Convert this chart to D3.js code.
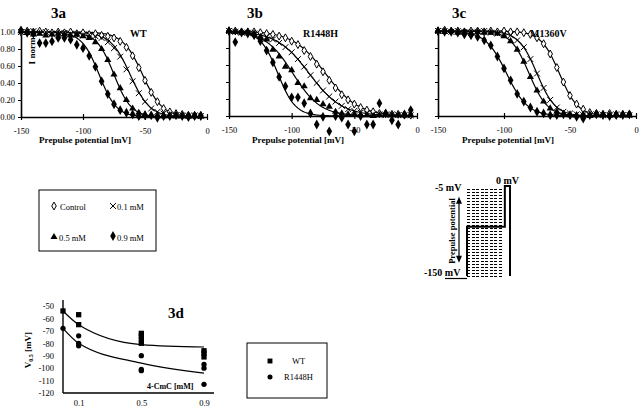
<!DOCTYPE html>
<html><head><meta charset="utf-8">
<script src="https://cdn.jsdelivr.net/npm/d3@7"></script>
<style>
body{margin:0;background:#fff}
svg{display:block}
text{font-family:"Liberation Serif","Times New Roman",serif;fill:#000}
.b{font-weight:bold}
</style>
</head><body>
<svg id="c" width="640" height="407"></svg>
<script>
// ---------- DATA ----------
const prepulse = [-150,-145,-140,-135,-130,-125,-120,-115,-110,-105,-100,-95,-90,-85,-80,-75,-70,-65,-60,-55,-50,-45,-40,-35,-30,-25,-20,-15,-10,-5];
const concLabels = ["Control","0.1 mM","0.5 mM","0.9 mM"];

// 3a WT
const wtControl = [1.00,1.01,1.00,1.01,1.00,0.99,1.00,0.99,1.00,0.98,0.99,0.97,0.98,0.96,0.95,0.93,0.89,0.82,0.72,0.58,0.43,0.29,0.18,0.10,0.06,0.04,0.03,0.02,0.02,0.02];
const wt01 = [1.00,1.00,1.01,0.99,1.00,0.98,0.97,0.99,0.98,0.97,0.96,0.97,0.95,0.93,0.88,0.81,0.71,0.56,0.42,0.28,0.18,0.10,0.06,0.04,0.03,0.02,0.02,0.01,0.02,0.01];
const wt05 = [1.01,0.99,0.97,0.98,0.96,0.97,0.98,0.97,0.96,0.97,0.95,0.93,0.88,0.80,0.67,0.50,0.34,0.20,0.10,0.05,0.03,0.02,0.02,0.01,0.02,0.01,0.01,0.02,0.01,0.01];
const wt09 = [1.02,0.99,0.98,0.87,0.87,0.89,0.93,0.93,0.91,0.85,0.81,0.72,0.59,0.42,0.27,0.15,0.08,0.05,0.03,0.01,0.02,0.02,-0.01,0.01,0.01,0.02,0.01,0.00,0.01,0.01];
const halfWT = [-52,-62,-75,-87];
const slopeWT = [8,8,7,7];

// 3b R1448H
const rControl = [1.00,1.00,0.99,0.99,0.99,0.98,0.97,0.96,0.94,0.92,0.88,0.84,0.77,0.70,0.61,0.52,0.42,0.33,0.25,0.19,0.14,0.10,0.07,0.05,0.03,0.03,0.02,0.02,0.01,0.01];
const r01 = [1.00,0.99,0.98,0.98,0.97,0.95,0.93,0.90,0.86,0.81,0.75,0.67,0.58,0.48,0.39,0.30,0.23,0.17,0.12,0.08,0.06,0.04,0.03,0.02,0.02,0.01,0.02,0.01,0.01,0.01];
const r05 = [1.00,0.99,0.98,0.99,0.97,0.93,0.90,0.78,0.70,0.58,0.54,0.39,0.35,0.21,0.19,0.14,0.11,0.05,0.03,0.02,0.02,0.01,0.01,0.00,0.01,0.02,0.01,0.01,0.02,0.01];
const r09 = [1.00,0.87,0.98,0.97,0.95,0.88,0.77,0.63,0.46,0.35,0.22,0.22,0.15,0.03,-0.10,-0.01,-0.18,0.00,-0.02,-0.10,-0.18,0.00,-0.10,-0.10,0.15,0.03,-0.05,-0.10,0.02,0.07];
const halfR1448H = [-73,-86,-99,-111];
const slopeR1448H = [13,13,11,7];

// 3c M1360V
const mControl = [1.00,1.01,1.00,1.00,0.99,1.00,1.00,0.99,1.00,0.99,1.00,0.99,0.99,0.98,0.96,0.92,0.85,0.73,0.57,0.40,0.24,0.14,0.08,0.04,0.03,0.02,0.03,0.02,0.02,0.02];
const m01 = [1.00,1.00,0.99,1.00,0.99,0.98,0.99,1.00,0.98,0.97,0.97,0.95,0.89,0.81,0.67,0.50,0.33,0.19,0.10,0.05,0.03,0.02,0.01,0.01,0.02,0.01,0.01,0.02,0.01,0.01];
const m05 = [1.00,0.99,1.00,0.98,0.99,0.98,0.99,0.98,0.98,0.97,0.94,0.88,0.78,0.64,0.46,0.30,0.17,0.09,0.05,0.02,0.01,0.01,0.02,0.00,0.01,0.02,0.01,0.01,0.02,0.01];
const m09 = [1.00,0.99,0.99,0.98,0.96,0.95,0.93,0.89,0.83,0.70,0.56,0.42,0.26,0.17,0.10,0.05,0.03,0.01,0.01,0.02,0.01,-0.01,-0.03,0.01,0.02,0.01,0.00,0.01,0.01,0.02];
const halfM1360V = [-58,-75,-81,-98];
const slopeM1360V = [7,7,7,8];

const xTicks = [-150,-100,-50,0];
const yTicks = [0,0.2,0.4,0.6,0.8,1.0];

// 3d
const wtConc = [0,0.1,0.1,0.5,0.5,0.5,0.5,0.9,0.9,0.9];
const wtV05 = [-54,-57,-65,-72,-74,-77,-80,-86,-88,-91];
const rConc = [0,0.1,0.1,0.1,0.5,0.5,0.5,0.9,0.9,0.9];
const rV05 = [-68,-74,-80,-82,-90,-101,-102,-97,-100,-113];
const fitConc = [0,0.1,0.5,0.9];
const wtFit = [-54,-65,-81,-83];
const rFit = [-68,-80,-96,-104];
const v05Ticks = [-50,-60,-70,-80,-90,-100,-110,-120];
const concTicks = [0.1,0.5,0.9];

// ---------- DRAW ----------
const svg = d3.select("#c");
const symTimes = d3.symbolTimes || d3.symbolX;
const markers = [
  {type:d3.symbolDiamond, size:18, fill:"#fff", stroke:"#000"},
  {type:symTimes, size:24, fill:"none", stroke:"#000"},
  {type:d3.symbolTriangle, size:22, fill:"#000", stroke:"none"},
  {type:d3.symbolDiamond, size:28, fill:"#000", stroke:"none"}
];
function drawSym(g, m, x, y){
  g.append("path").attr("d", d3.symbol(m.type, m.size)())
    .attr("transform", `translate(${x},${y})`)
    .attr("fill", m.fill).attr("stroke", m.stroke).attr("stroke-width", 1);
}

const panels = [
  {title:"3a", name:"WT", x0:21, x1:207, yTop:32, yBot:117, data:[wtControl,wt01,wt05,wt09], half:halfWT, slope:slopeWT, yLab:true, tx:51, nx:130, cx:85},
  {title:"3b", name:"R1448H", x0:229, x1:417, yTop:31, yBot:116, data:[rControl,r01,r05,r09], half:halfR1448H, slope:slopeR1448H, yLab:false, tx:247, nx:303, cx:298},
  {title:"3c", name:"M1360V", x0:438, x1:636, yTop:31, yBot:116, data:[mControl,m01,m05,m09], half:halfM1360V, slope:slopeM1360V, yLab:false, tx:452, nx:530, cx:508}
];

const fitGrid = d3.range(-150, -4.9, 1);

panels.forEach(p => {
  const x = d3.scaleLinear().domain([-150,0]).range([p.x0,p.x1]);
  const y = d3.scaleLinear().domain([0,1]).range([p.yBot,p.yTop]);
  const g = svg.append("g");

  p.half.forEach((h,i) => {
    const line = d3.line().x(v => x(v)).y(v => y(1/(1+Math.exp((v-h)/p.slope[i]))));
    g.append("path").attr("d", line(fitGrid)).attr("fill","none").attr("stroke","#000").attr("stroke-width",1.2);
  });

  const xa = g.append("g").attr("transform",`translate(0,${p.yBot})`)
    .call(d3.axisBottom(x).tickValues(xTicks).tickSizeInner(3).tickSizeOuter(0).tickPadding(8).tickFormat(d => String(d)));
  xa.selectAll(".tick line").attr("y1",-3).attr("y2",3).attr("stroke-width",1.2);
  xa.select(".domain").attr("stroke-width",1.6);
  xa.selectAll("text").attr("font-size",8.5);

  const ya = g.append("g").attr("transform",`translate(${p.x0},0)`)
    .call(d3.axisLeft(y).tickValues(yTicks).tickSizeInner(3).tickSizeOuter(0).tickPadding(3)
      .tickFormat(p.yLab ? d3.format(".2f") : () => ""));
  ya.select(".domain").attr("stroke-width",1.6);
  ya.selectAll(".tick line").attr("stroke-width",1);
  ya.selectAll("text").attr("font-size",8.5);

  p.data.forEach((arr,i) => {
    arr.forEach((v,j) => drawSym(g, markers[i], x(prepulse[j]), y(v)));
  });

  g.append("text").attr("class","b").attr("x",p.tx).attr("y",18).attr("font-size",15).text(p.title);
  g.append("text").attr("class","b").attr("x",p.nx).attr("y",37).attr("font-size",10).text(p.name);
  g.append("text").attr("class","b").attr("x",p.cx).attr("y",143).attr("text-anchor","middle").attr("font-size",9).text("Prepulse potential [mV]");
  if (p.yLab) {
    g.append("text").attr("class","b").attr("transform","translate(35,51) rotate(-90)").attr("text-anchor","middle").attr("font-size",9).text("I norm");
  }
});

// legend 1
const lg = svg.append("g");
lg.append("rect").attr("x",39).attr("y",190).attr("width",117).attr("height",61).attr("fill","none").attr("stroke","#000").attr("stroke-width",1);
const legPos = [[54,206,60,210],[113,206,117,210],[54,237,59,241],[113,236,117,241]];
concLabels.forEach((t,i) => {
  const [sx,sy,tx,ty] = legPos[i];
  drawSym(lg, markers[i], sx, sy);
  lg.append("text").attr("x",tx).attr("y",ty).attr("font-size",8.5).text(t);
});

// pulse protocol diagram
const pg = svg.append("g");
const py = d3.scaleLinear().domain([-150,0]).range([276,186]);
const pt = d3.scaleLinear().domain([0,100]).range([467,510]);
prepulse.forEach(v => {
  const yy = Math.round(py(v)) + 0.5;
  pg.append("line").attr("x1",pt(1)).attr("x2",pt(82)).attr("y1",yy).attr("y2",yy)
    .attr("stroke","#000").attr("stroke-width",1).attr("stroke-dasharray","3,1.5")
    .attr("shape-rendering","crispEdges");
});
const stepLevel = -68;
const stepPts = [[0,-150],[0,stepLevel],[88,stepLevel],[88,0],[100,0],[100,-150]];
pg.append("path").attr("d", d3.line().x(d=>pt(d[0])).y(d=>py(d[1]))(stepPts))
  .attr("fill","none").attr("stroke","#000").attr("stroke-width",2);
const ax = 459, ay1 = py(-18), ay2 = py(-128);
pg.append("line").attr("x1",ax).attr("x2",ax).attr("y1",ay1+4).attr("y2",ay2-4).attr("stroke","#000").attr("stroke-width",1.2);
pg.append("path").attr("d",`M${ax},${ay1} L${ax-3},${ay1+7} L${ax+3},${ay1+7} Z`).attr("fill","#000");
pg.append("path").attr("d",`M${ax},${ay2} L${ax-3},${ay2-7} L${ax+3},${ay2-7} Z`).attr("fill","#000");
pg.append("text").attr("class","b").attr("transform",`translate(455,${py(-75)}) rotate(-90)`).attr("text-anchor","middle").attr("font-size",8.5).text("Prepulse potential");
pg.append("text").attr("class","b").attr("x",435).attr("y",191).attr("font-size",10).text("-5 mV");
pg.append("text").attr("class","b").attr("x",496).attr("y",184).attr("font-size",10).text("0 mV");
pg.append("text").attr("class","b").attr("x",424).attr("y",276).attr("font-size",10).text("-150 mV");
pg.append("line").attr("x1",445).attr("x2",467).attr("y1",278.5).attr("y2",278.5).attr("stroke","#000").attr("stroke-width",1.2);

// 3d panel
const dg = svg.append("g");
const dx = d3.scaleLinear().domain([0,0.9]).range([63,204]);
const dy = d3.scaleLinear().domain([-120,-50]).range([393,306]);
const fitLine = d3.line().curve(d3.curveMonotoneX).x((d,i)=>dx(fitConc[i])).y(d=>dy(d));
dg.append("path").attr("d",fitLine(wtFit)).attr("fill","none").attr("stroke","#000").attr("stroke-width",1.2);
dg.append("path").attr("d",fitLine(rFit)).attr("fill","none").attr("stroke","#000").attr("stroke-width",1.2);
const dya = dg.append("g").attr("transform","translate(63,0)")
  .call(d3.axisLeft(dy).tickValues(v05Ticks).tickSize(0).tickPadding(9).tickFormat(d=>String(d)));
dya.select(".domain").attr("d","M0,300V393").attr("stroke-width",1.4);
dya.selectAll("text").attr("font-size",8.5);
const dxa = dg.append("g").attr("transform","translate(0,393)")
  .call(d3.axisBottom(dx).tickValues(concTicks).tickSize(0).tickPadding(7).tickFormat(d=>String(d)));
dxa.select(".domain").remove();
dxa.selectAll("text").attr("font-size",8.5);
dg.append("line").attr("x1",63).attr("x2",214).attr("y1",393).attr("y2",393).attr("stroke","#000").attr("stroke-width",1.4);
wtConc.forEach((c,i)=>{
  dg.append("path").attr("d",d3.symbol(d3.symbolSquare,28)()).attr("transform",`translate(${dx(c)},${dy(wtV05[i])})`).attr("fill","#000");
});
rConc.forEach((c,i)=>{
  dg.append("path").attr("d",d3.symbol(d3.symbolCircle,22)()).attr("transform",`translate(${dx(c)},${dy(rV05[i])})`).attr("fill","#000");
});
dg.append("text").attr("class","b").attr("x",168).attr("y",318).attr("font-size",15).text("3d");
dg.append("text").attr("class","b").attr("x",147).attr("y",389).attr("font-size",8).text("4-CmC [mM]");
const vl = dg.append("text").attr("class","b").attr("transform","translate(31,350) rotate(-90)").attr("text-anchor","middle").attr("font-size",9);
vl.append("tspan").text("V");
vl.append("tspan").attr("font-size",6).attr("dy",2).text("0.5");
vl.append("tspan").attr("dy",-2).text(" [mV]");

// legend 2
const l2 = svg.append("g");
l2.append("rect").attr("x",247).attr("y",343).attr("width",80).attr("height",55).attr("fill","none").attr("stroke","#000").attr("stroke-width",1);
l2.append("path").attr("d",d3.symbol(d3.symbolSquare,24)()).attr("transform","translate(270,361)").attr("fill","#000");
l2.append("text").attr("x",292).attr("y",364).attr("font-size",8.5).text("WT");
l2.append("path").attr("d",d3.symbol(d3.symbolCircle,20)()).attr("transform","translate(270,377)").attr("fill","#000");
l2.append("text").attr("x",284).attr("y",380).attr("font-size",8.5).text("R1448H");
</script>
</body></html>
